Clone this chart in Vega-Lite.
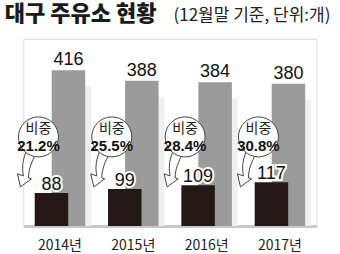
{
  "$schema": "https://vega.github.io/schema/vega-lite/v6.json",
  "autosize": "none",
  "width": 293.3,
  "height": 187.2,
  "padding": {"left": 23.3, "top": 38.8, "right": 23.4, "bottom": 28},
  "background": "white",
  "title": {
    "text": "대구 주유소 현황",
    "anchor": "start",
    "frame": "group",
    "orient": "top",
    "dx": -18.5,
    "offset": -37,
    "font": "Noto Sans CJK KR",
    "fontSize": 22,
    "fontWeight": 900,
    "color": "#1a1a1a",
    "baseline": "alphabetic"
  },
  "data": {
    "values": [
      {"year": "2014년", "total": 416, "self": 88, "share": "21.2%"},
      {"year": "2015년", "total": 388, "self": 99, "share": "25.5%"},
      {"year": "2016년", "total": 384, "self": 109, "share": "28.4%"},
      {"year": "2017년", "total": 380, "self": 117, "share": "30.8%"}
    ]
  },
  "encoding": {
    "x": {
      "field": "year",
      "type": "nominal",
      "sort": null,
      "scale": {"paddingInner": 0, "paddingOuter": 0},
      "axis": {
        "title": null,
        "ticks": false,
        "tickSize": 0,
        "labelPadding": 12,
        "labelFont": "Noto Sans CJK KR",
        "labelFontSize": 14,
        "labelColor": "#222",
        "labelAngle": 0,
        "domainColor": "#c8c8c8",
        "domainWidth": 3
      }
    }
  },
  "layer": [
    {
      "mark": {"type": "bar", "width": 26, "xOffset": 18, "yOffset": 16, "color": "#f0f0f0", "clip": true},
      "encoding": {
        "y": {
          "field": "total",
          "type": "quantitative",
          "scale": {"domain": [0, 460]},
          "axis": {
            "title": "(12월말 기준, 단위:개)",
            "titleAngle": 0,
            "titleX": 149.7,
            "titleY": -18.8,
            "titleAlign": "left",
            "titleBaseline": "alphabetic",
            "titleFont": "Noto Sans CJK KR",
            "titleFontSize": 17,
            "titleFontWeight": "normal",
            "titleColor": "#222",
            "labels": false,
            "ticks": false,
            "domain": false,
            "grid": false
          }
        }
      }
    },
    {
      "mark": {"type": "bar", "width": 33.5, "xOffset": 8.5, "color": "#9b9b9b"},
      "encoding": {"y": {"field": "total", "type": "quantitative"}}
    },
    {
      "mark": {"type": "text", "xOffset": 8.5, "dy": -5, "baseline": "alphabetic", "font": "Liberation Sans", "fontSize": 18, "color": "#111"},
      "encoding": {"y": {"field": "total", "type": "quantitative"}, "text": {"field": "total"}}
    },
    {
      "mark": {"type": "bar", "width": 33.5, "xOffset": -8.5, "color": "#231815"},
      "encoding": {"y": {"field": "self", "type": "quantitative"}}
    },
    {
      "mark": {"type": "text", "xOffset": -8.5, "dy": -3, "baseline": "alphabetic", "font": "Liberation Sans", "fontSize": 18, "color": "white", "stroke": "white", "strokeWidth": 4},
      "encoding": {"y": {"field": "self", "type": "quantitative"}, "text": {"field": "self"}}
    },
    {
      "mark": {"type": "text", "xOffset": -8.5, "dy": -3, "baseline": "alphabetic", "font": "Liberation Sans", "fontSize": 18, "color": "#111"},
      "encoding": {"y": {"field": "self", "type": "quantitative"}, "text": {"field": "self"}}
    },
    {
      "mark": {
        "type": "point",
        "shape": "M -1.2 1.4 C -1.7 2.6 -1.6 3.3 -1.5 3.9 L -2.1 3.7 L -1.8 5 L -0.7 4.2 L -1 4.1 C -1 3.3 -0.7 2.5 -0.2 1.6 Z",
        "size": 400,
        "filled": true,
        "fill": "white",
        "stroke": "#444",
        "strokeWidth": 1,
        "opacity": 1,
        "xOffset": -21.5
      },
      "encoding": {"y": {"datum": 238}}
    },
    {
      "mark": {"type": "point", "shape": "circle", "size": 1600, "filled": true, "fill": "white", "stroke": "#444", "strokeWidth": 1, "opacity": 1, "xOffset": -21.5},
      "encoding": {"y": {"datum": 238}}
    },
    {
      "mark": {"type": "text", "text": "비중", "xOffset": -21.5, "dy": -8, "font": "Noto Sans CJK KR", "fontSize": 14, "color": "#222"},
      "encoding": {"y": {"datum": 238}}
    },
    {
      "mark": {"type": "text", "xOffset": -21.5, "dy": 9, "font": "Liberation Sans", "fontSize": 15, "fontWeight": "bold", "color": "#111"},
      "encoding": {"y": {"datum": 238}, "text": {"field": "share"}}
    }
  ]
}
